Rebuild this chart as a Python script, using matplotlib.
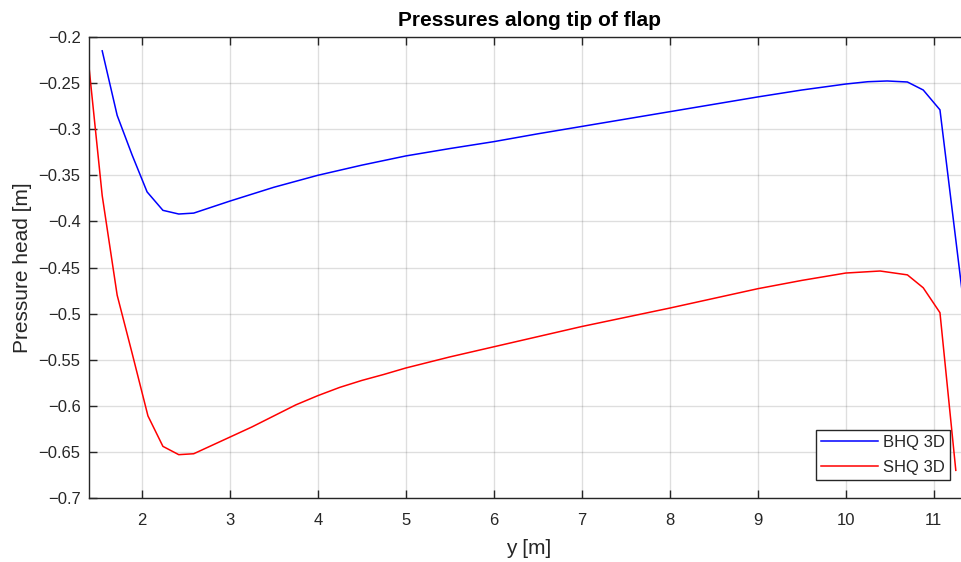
import matplotlib
matplotlib.use("Agg")
import matplotlib.pyplot as plt
from matplotlib.ticker import FuncFormatter

# Spanwise position along the flap tip [m]
y_bhq = [1.55, 1.72, 1.89, 2.06, 2.24, 2.42, 2.59, 3.0, 3.5, 4.0, 4.5, 5.0, 5.5,
         6.0, 6.5, 7.0, 7.5, 8.0, 8.5, 9.0, 9.5, 10.0, 10.25, 10.47, 10.7,
         10.88, 11.07, 11.42]
p_bhq = [-0.215, -0.285, -0.328, -0.368, -0.388, -0.392, -0.391, -0.378, -0.363,
         -0.350, -0.339, -0.329, -0.321, -0.3135, -0.305, -0.297, -0.289, -0.281,
         -0.273, -0.265, -0.2575, -0.251, -0.2485, -0.2477, -0.2488, -0.2575,
         -0.279, -0.553]

y_shq = [1.38, 1.55, 1.72, 1.89, 2.07, 2.24, 2.42, 2.59, 3.0, 3.25, 3.5, 3.75,
         4.0, 4.25, 4.5, 4.75, 5.0, 5.5, 6.0, 6.5, 7.0, 7.5, 8.0, 8.5, 9.0, 9.5,
         10.0, 10.39, 10.7, 10.88, 11.07, 11.25]
p_shq = [-0.214, -0.372, -0.480, -0.543, -0.611, -0.644, -0.653, -0.652, -0.634,
         -0.623, -0.611, -0.599, -0.589, -0.580, -0.5725, -0.566, -0.559, -0.547,
         -0.536, -0.525, -0.514, -0.504, -0.494, -0.4835, -0.473, -0.464, -0.456,
         -0.4538, -0.458, -0.472, -0.499, -0.670]

series_labels = ["BHQ 3D", "SHQ 3D"]
x_ticks = [2, 3, 4, 5, 6, 7, 8, 9, 10, 11]
y_ticks = [-0.7, -0.65, -0.6, -0.55, -0.5, -0.45, -0.4, -0.35, -0.3, -0.25, -0.2]

plt.rcParams["font.family"] = ["Liberation Sans", "DejaVu Sans"]
dark = (0.15, 0.15, 0.15)

fig = plt.figure(figsize=(9.62, 5.62), dpi=100)
ax = fig.add_axes([89 / 962, 64 / 562, 880 / 962, 461 / 562])

ax.plot(y_bhq, p_bhq, color=(0, 0, 1), lw=1.1, label=series_labels[0])
ax.plot(y_shq, p_shq, color=(1, 0, 0), lw=1.1, label=series_labels[1])

ax.set_xlim(1.4, 11.4)
ax.set_ylim(-0.7, -0.2)
ax.set_xticks(x_ticks)
ax.set_yticks(y_ticks)
ax.yaxis.set_major_formatter(
    FuncFormatter(lambda v, _: f"{v:g}".replace("-", "\u2212")))

ax.grid(True, color=dark, alpha=0.15, lw=1.0)
ax.set_axisbelow(True)
for s in ax.spines.values():
    s.set_color(dark)
    s.set_linewidth(1.0)
ax.tick_params(direction="in", length=6, width=1.0, colors=dark,
               top=True, right=True, labelsize=12)
ax.tick_params(axis="x", pad=11)
ax.tick_params(axis="y", pad=6)

ax.set_xlabel("y [m]", fontsize=15, color=dark, labelpad=8)
ax.set_ylabel("Pressure head [m]", fontsize=15, color=dark, labelpad=5)
ax.set_title("Pressures along tip of flap", fontsize=15, fontweight="bold",
             color=(0, 0, 0), pad=8)

leg = ax.legend(loc="lower right", bbox_to_anchor=(0.9784, 0.039),
                borderaxespad=0, fontsize=12, fancybox=False,
                handlelength=3.4, handletextpad=0.3, labelspacing=0.6,
                borderpad=0.3, framealpha=1)
leg.get_frame().set_edgecolor(dark)
leg.get_frame().set_linewidth(1.0)
for t in leg.get_texts():
    t.set_color(dark)

fig.savefig("out.png", dpi=100)
